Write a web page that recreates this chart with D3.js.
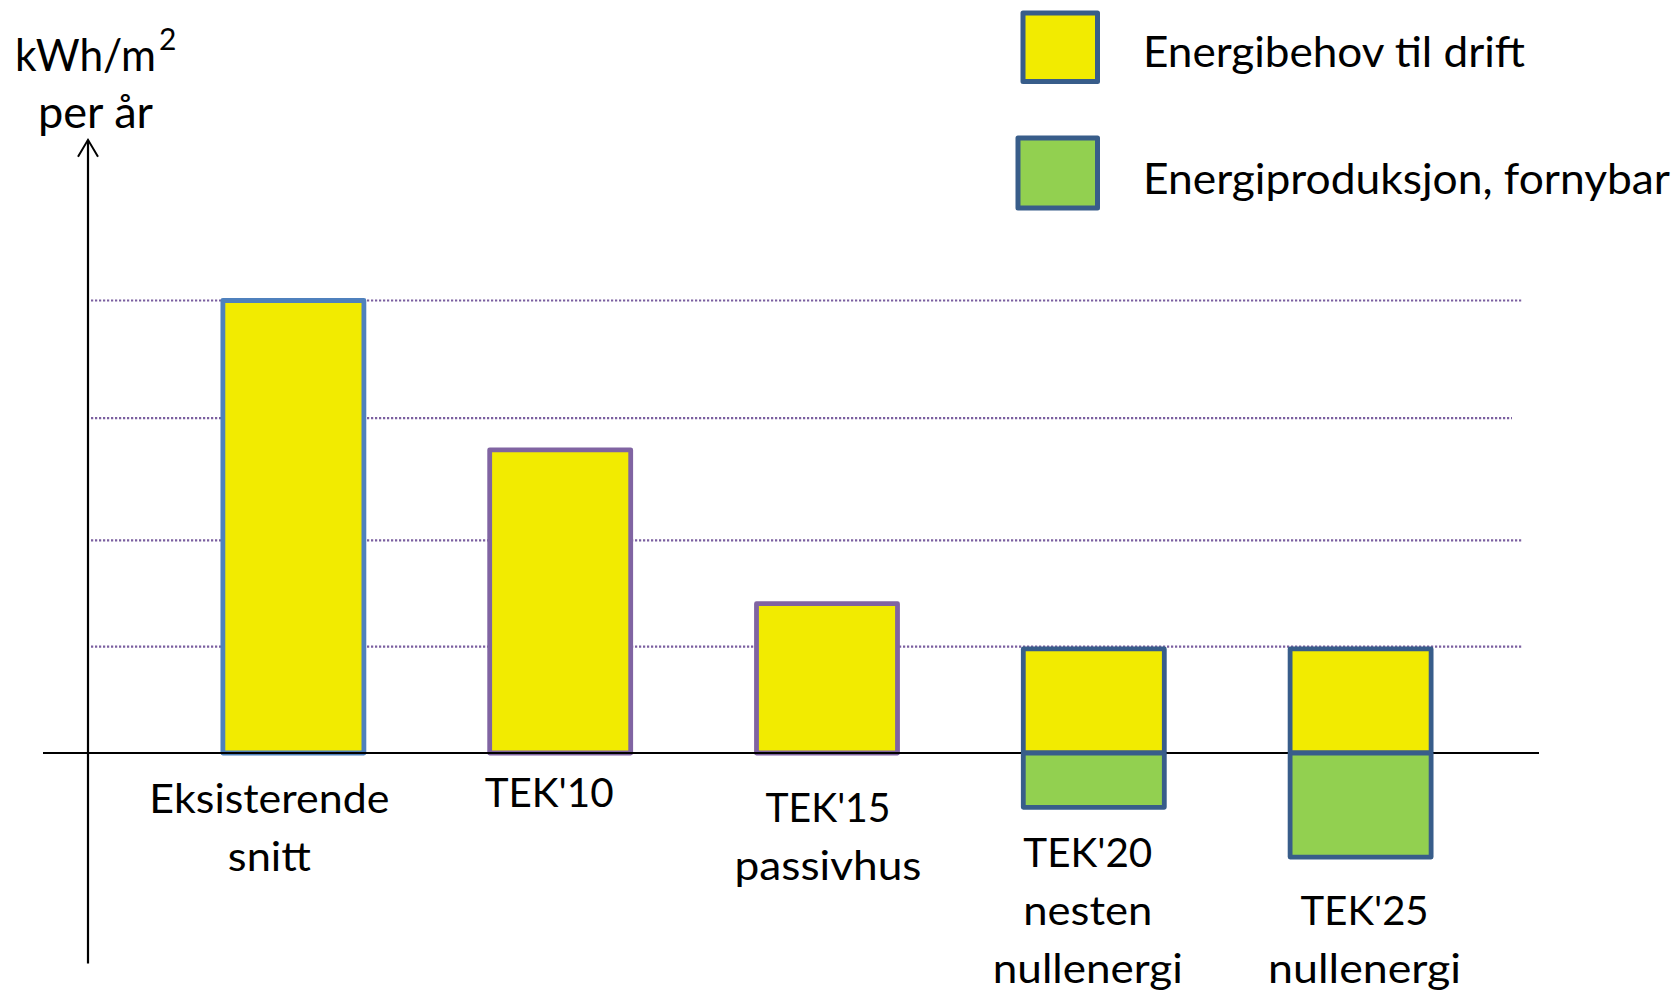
<!DOCTYPE html>
<html>
<head>
<meta charset="utf-8">
<script src="https://cdn.jsdelivr.net/npm/d3@7/dist/d3.min.js"></script>
<style>
  html, body { margin: 0; padding: 0; background: #ffffff; }
  svg { display: block; }
  text { font-family: Lato, "Open Sans", "Noto Sans", sans-serif; fill: #000; }
</style>
</head>
<body>
<svg id="chart" width="1679" height="991"></svg>
<script>
// ---------- data ----------
const categories = ["Eksisterende snitt", "TEK'10", "TEK'15 passivhus", "TEK'20 nesten nullenergi", "TEK'25 nullenergi"];
const labelLines = [["Eksisterende", "snitt"], ["TEK'10"], ["TEK'15", "passivhus"], ["TEK'20", "nesten", "nullenergi"], ["TEK'25", "nullenergi"]];
const energibehov = [200, 134, 66, 46, 46];          // kWh/m² per år (schematic)
const produksjon = [0, 0, 0, -24, -46];              // renewable production, drawn below zero
const gridValues = [47, 94, 148, 200];
const axisExtent = [-93, 271];
const legendLabels = ["Energibehov til drift", "Energiproduksjon, fornybar"];
const yLabel = ["kWh/m", "2", "per år"];

// ---------- layout / styles ----------
const W = 1679, H = 991;
const yellow = "#F2EB00", green = "#92D050";
const strokeColors = ["#4F81BD", "#8064A2", "#8064A2", "#385D8A", "#385D8A"];
const labelShift = [-24, -11, 1, -6, 4];
const labelFirstBaseline = [813, 807, 822, 867, 925];
const labelLineHeight = 58;
const labelWidths = [[240, 83], [129], [125, 187], [129, 129, 190], [128, 193]];
const gridEnds = [1522, 1522, 1512, 1522];

const svg = d3.select("#chart");

const y = d3.scaleLinear().domain([0, 200]).range([753, 300.5]);
const x = d3.scaleBand().domain(categories).range([160, 1494]).paddingInner(0.4715).paddingOuter(0.2357);
const axisX = 88;

// gridlines
svg.append("g").selectAll("line").data(gridValues).join("line")
  .attr("x1", axisX + 3).attr("x2", (d, i) => gridEnds[i])
  .attr("y1", d => y(d)).attr("y2", d => y(d))
  .attr("stroke", "#7B5FA0").attr("stroke-width", 2.2)
  .attr("stroke-dasharray", "2.2,1.8");

// bars: energy demand
const bars = svg.append("g");
bars.selectAll("rect.demand").data(categories).join("rect")
  .attr("class", "demand")
  .attr("x", d => x(d)).attr("width", x.bandwidth())
  .attr("y", (d, i) => y(energibehov[i]))
  .attr("height", (d, i) => y(0) - y(energibehov[i]))
  .attr("fill", yellow)
  .attr("stroke", (d, i) => strokeColors[i]).attr("stroke-width", 4.8)
  .attr("stroke-linejoin", "round");

// x baseline
svg.append("line").attr("x1", 43).attr("x2", 1539).attr("y1", y(0)).attr("y2", y(0))
  .attr("stroke", "#000").attr("stroke-width", 2);

// bars: production (negative)
svg.append("g").selectAll("rect.prod").data(categories.filter((d, i) => produksjon[i] < 0)).join("rect")
  .attr("class", "prod")
  .attr("x", d => x(d)).attr("width", x.bandwidth())
  .attr("y", y(0))
  .attr("height", d => y(produksjon[categories.indexOf(d)]) - y(0))
  .attr("fill", green)
  .attr("stroke", d => strokeColors[categories.indexOf(d)]).attr("stroke-width", 4.8)
  .attr("stroke-linejoin", "round");

// y axis with open arrow
const yTop = y(axisExtent[1]), yBot = y(axisExtent[0]);
svg.append("line").attr("x1", axisX).attr("x2", axisX).attr("y1", yTop).attr("y2", yBot)
  .attr("stroke", "#000").attr("stroke-width", 2.2);
svg.append("path")
  .attr("d", `M${axisX - 10},${yTop + 17} L${axisX},${yTop} L${axisX + 10},${yTop + 17}`)
  .attr("fill", "none").attr("stroke", "#000").attr("stroke-width", 2);

// y label
const yl = svg.append("text").attr("font-size", 44);
yl.append("tspan").attr("x", 15).attr("y", 70.7).attr("textLength", 141).attr("lengthAdjust", "spacingAndGlyphs").text(yLabel[0]);
yl.append("tspan").attr("x", 159).attr("y", 50).attr("font-size", 30).text(yLabel[1]);
svg.append("text").attr("font-size", 44).attr("x", 38).attr("y", 128)
  .attr("textLength", 115).attr("lengthAdjust", "spacingAndGlyphs").text(yLabel[2]);

// category labels
const lab = svg.append("g");
categories.forEach((c, i) => {
  const cx = x(c) + x.bandwidth() / 2 + labelShift[i];
  labelLines[i].forEach((line, j) => {
    lab.append("text")
      .attr("x", cx).attr("y", labelFirstBaseline[i] + j * labelLineHeight)
      .attr("text-anchor", "middle").attr("font-size", 40)
      .attr("textLength", labelWidths[i][j]).attr("lengthAdjust", "spacingAndGlyphs")
      .text(line);
  });
});

// legend
const legend = svg.append("g");
const legendBoxes = [{x: 1023, y: 13, w: 74.5, h: 68.5, fill: yellow}, {x: 1018, y: 138, w: 79.5, h: 70, fill: green}];
legend.selectAll("rect").data(legendBoxes).join("rect")
  .attr("x", d => d.x).attr("y", d => d.y).attr("width", d => d.w).attr("height", d => d.h)
  .attr("fill", d => d.fill).attr("stroke", "#385D8A").attr("stroke-width", 5)
  .attr("stroke-linejoin", "round");
const legendWidths = [382, 527];
legend.selectAll("text").data(legendLabels).join("text")
  .attr("x", 1143).attr("y", (d, i) => i === 0 ? 67 : 194)
  .attr("font-size", 42)
  .attr("textLength", (d, i) => legendWidths[i]).attr("lengthAdjust", "spacingAndGlyphs")
  .text(d => d);
</script>
</body>
</html>
